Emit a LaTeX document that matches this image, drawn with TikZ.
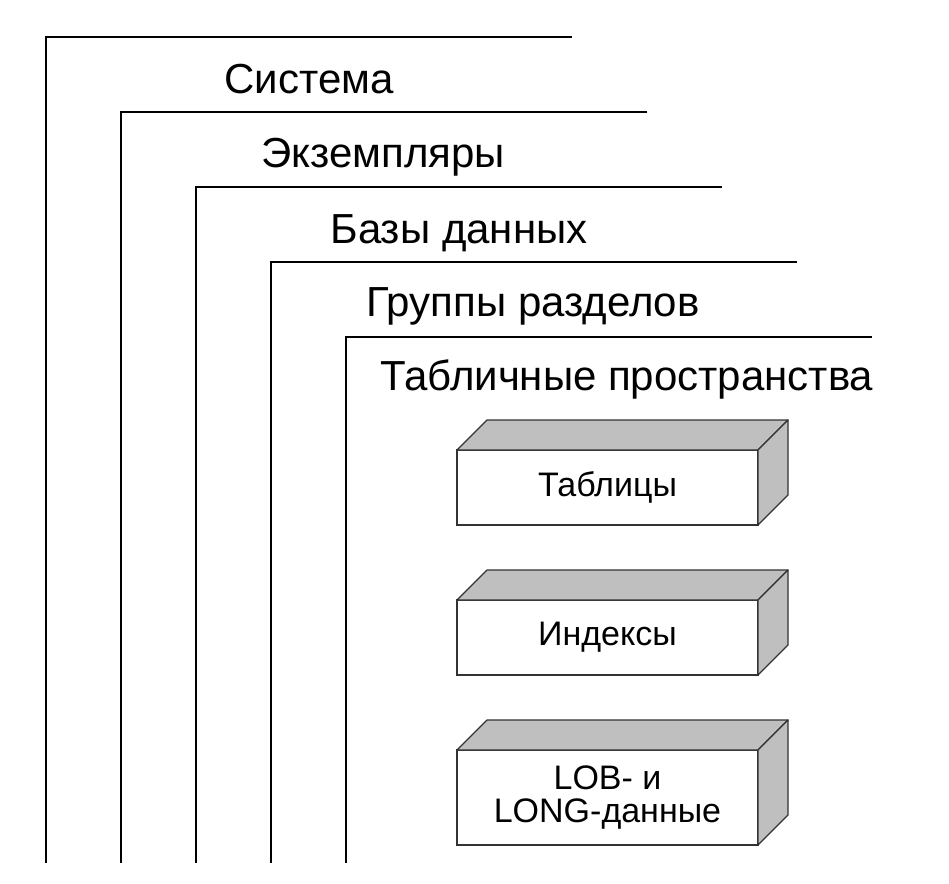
\documentclass[tikz,border=0pt]{standalone}
\usepackage{fontspec}
\setmainfont{Liberation Sans}
\tikzset{
  level/.style={line width=1pt},
  layer/.style={anchor=base, font=\fontsize{21}{24}\selectfont},
  slab/.style={draw=black!80, line width=0.6pt, fill=white, inner sep=0pt, outer sep=0pt,
    minimum width=150.5pt, align=center, font=\fontsize{17}{16.5}\selectfont},
  face/.style={draw=black!80, line width=0.6pt, fill=black!25, line join=round}
}
\begin{document}
\begin{tikzpicture}[x=0.5pt, y=-0.5pt]
    \useasboundingbox (0,0) rectangle (949,884);

    % Nested levels
    \foreach \i in {0,...,4} {
        \draw[level] ({572+75*\i},{37+75*\i}) -- ({46+75*\i},{37+75*\i}) -- ({46+75*\i},863);
    }

    % Level names
    \node[layer] (sys) at (309,93) {Система};
    \node[layer] (inst) at (383,167) {Экземпляры};
    \node[layer] (db) at (459,243) {Базы данных};
    \node[layer] (grp) at (533,316) {Группы разделов};
    \node[layer] (ts) at (627,390) {Табличные пространства};

    % Objects in a tablespace
    \node[slab, minimum height=37.5pt] (tab) at (607.5,487.5) {Таблицы};
    \node[slab, minimum height=37.5pt] (idx) at (607.5,637.5) {Индексы};
    \node[slab, minimum height=47.5pt] (lob) at (607.5,797.5) {LOB- и\\LONG-данные};

    % Top and side faces
    \foreach \b in {tab,idx,lob} {
        \draw[face] (\b.north west) -- ++(30,-30) -- ([shift={(30,-30)}]\b.north east) -- (\b.north east) -- cycle;
        \draw[face] (\b.north east) -- ++(30,-30) -- ([shift={(30,-30)}]\b.south east) -- (\b.south east) -- cycle;
    }
\end{tikzpicture}
\end{document}
